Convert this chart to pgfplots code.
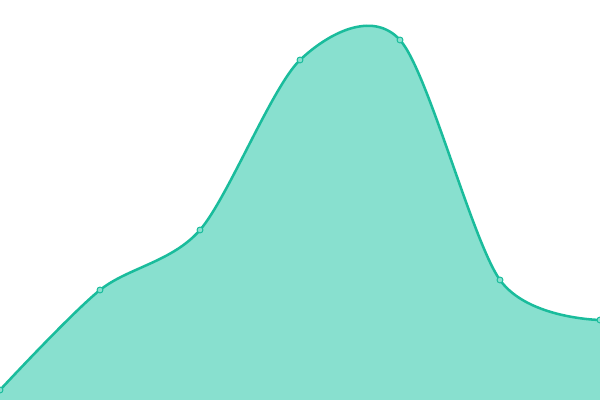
\documentclass[border=0pt]{standalone}
\usepackage{pgfplots}
\pgfplotsset{compat=1.18}
\definecolor{linec}{HTML}{1ABC9C}
\definecolor{fillc}{HTML}{88E0CF}
\begin{document}
\begin{tikzpicture}
\begin{axis}[
  name=ax,
  width=15cm, height=10cm,
  scale only axis,
  hide axis,
  xmin=0, xmax=600,
  ymin=0, ymax=400,
  clip=true,
]
\addplot[draw=none, fill=fillc, smooth, tension=0.5] coordinates {
  (0,10) (100,110) (200,170) (300,340) (400,360) (500,120) (600,80)
} \closedcycle;
\addplot[linec, line width=1.8pt, smooth, tension=0.5,
  mark=*, mark size=2.1pt, mark options={fill=fillc, draw=linec, line width=0.7pt}] coordinates {
  (0,10) (100,110) (200,170) (300,340) (400,360) (500,120) (600,80)
};
\end{axis}
\pgfresetboundingbox
\useasboundingbox (ax.south west) rectangle (ax.north east);
\end{tikzpicture}
\end{document}
